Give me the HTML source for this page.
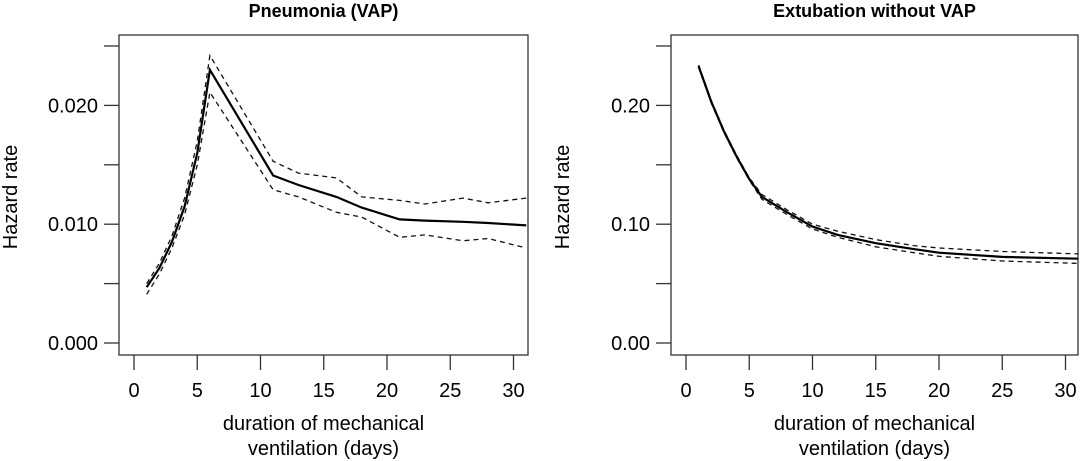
<!DOCTYPE html>
<html><head><meta charset="utf-8"><style>
body{margin:0;background:#fff}
svg{display:block;font-family:"Liberation Sans",sans-serif}
</style></head><body>
<svg id="chart" width="1080" height="461"></svg>
<script>
const days=[1,2,3,4,5,6,11,13,16,18,21,23,26,28,31];
const vapEst=[0.0047,0.0063,0.0085,0.0115,0.0160,0.0230,0.0141,0.0133,0.0123,0.0114,0.0104,0.0103,0.0102,0.0101,0.0099];
const vapUp=[0.0050,0.0067,0.0090,0.0122,0.0170,0.0242,0.0153,0.0143,0.0139,0.0123,0.0120,0.0117,0.0122,0.0118,0.0122];
const vapLo=[0.0041,0.0058,0.0080,0.0108,0.0150,0.0211,0.0129,0.0123,0.0110,0.0106,0.0089,0.0091,0.0086,0.0088,0.0080];
const extDays=[1,2,3,4,5,6,8,10,12,15,18,20,25,31];
const extEst=[0.233,0.203,0.178,0.157,0.138,0.123,0.110,0.098,0.091,0.084,0.079,0.076,0.0725,0.071];
const extUp=[0.234,0.204,0.179,0.158,0.139,0.125,0.112,0.100,0.094,0.087,0.082,0.080,0.077,0.075];
const extLo=[0.232,0.202,0.177,0.156,0.137,0.121,0.108,0.096,0.089,0.081,0.076,0.073,0.069,0.067];
const xTicks=[0,5,10,15,20,25,30];
const vapYTicks=[0,0.005,0.010,0.015,0.020,0.025];
const vapYLabels=["0.000","","0.010","","0.020",""];
const extYTicks=[0,0.05,0.10,0.15,0.20,0.25];
const extYLabels=["0.00","","0.10","","0.20",""];
const NS="http://www.w3.org/2000/svg";
const svg=document.getElementById('chart');
function mk(t,a,p){const e=document.createElementNS(NS,t);for(const k in a)e.setAttribute(k,a[k]);(p||svg).appendChild(e);return e;}
function panel(name,left,right,title,yT,yL,yMax,xs,est,up,lo){
  const top=35,bot=355;
  const g=mk('g',{});
  
  
  const x0=left+15,dx=12.65;
  const X=d=>x0+d*dx;
  const Y=v=>343-v/yMax*297;
  const box=mk('rect',{x:left,y:top,width:right-left,height:bot-top,fill:'none',stroke:'#333','stroke-width':1.3},g);
  
  const t=mk('text',{x:(left+right)/2,y:17,'text-anchor':'middle','font-size':18,'font-weight':'bold'},g);t.textContent=title;
  
  xTicks.forEach(v=>{
    const l=mk('line',{x1:X(v),x2:X(v),y1:bot,y2:370,stroke:'#333','stroke-width':1.3},g);
    
    const tx=mk('text',{x:X(v),y:397,'text-anchor':'middle','font-size':20},g);tx.textContent=v;
    
  });
  yT.forEach((v,i)=>{
    const l=mk('line',{x1:left-15,x2:left,y1:Y(v),y2:Y(v),stroke:'#333','stroke-width':1.3},g);
    
    if(yL[i]){const tx=mk('text',{x:left-21,y:Y(v)+7,'text-anchor':'end','font-size':20},g);tx.textContent=yL[i];
    }
  });
  const yl=mk('text',{x:0,y:0,transform:`translate(${left-102},197) rotate(-90)`,'text-anchor':'middle','font-size':20},g);yl.textContent='Hazard rate';
  
  const a=mk('text',{x:(left+right)/2,y:430,'text-anchor':'middle','font-size':20},g);a.textContent='duration of mechanical';
  
  const b=mk('text',{x:(left+right)/2,y:455,'text-anchor':'middle','font-size':20},g);b.textContent='ventilation (days)';
  
  const pts=arr=>arr.map((v,i)=>X(xs[i]).toFixed(1)+','+Y(v).toFixed(1)).join(' ');
  const pu=mk('polyline',{points:pts(up),fill:'none',stroke:'#111','stroke-width':1.3,'stroke-dasharray':'5,4'},g);
  
  const pl=mk('polyline',{points:pts(lo),fill:'none',stroke:'#111','stroke-width':1.3,'stroke-dasharray':'5,4'},g);
  
  const pe=mk('polyline',{points:pts(est),fill:'none',stroke:'#000','stroke-width':2.2},g);
  
}
panel('vap-panel',119,528,'Pneumonia (VAP)',vapYTicks,vapYLabels,0.025,days,vapEst,vapUp,vapLo);
panel('extubation-panel',671,1078,'Extubation without VAP',extYTicks,extYLabels,0.25,extDays,extEst,extUp,extLo);
</script>
</body></html>
